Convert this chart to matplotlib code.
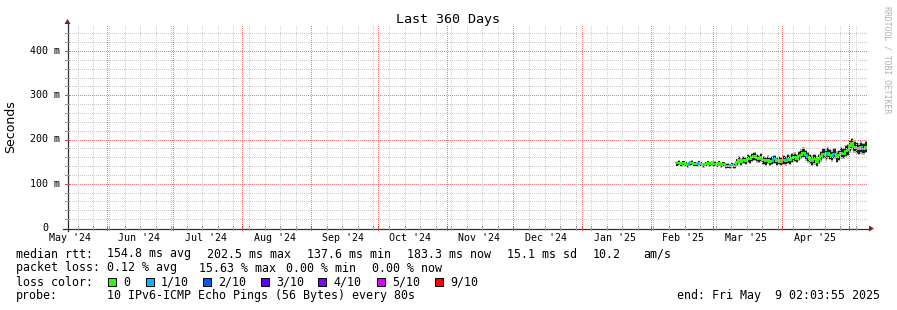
import matplotlib
matplotlib.use("Agg")
import matplotlib.pyplot as plt
import matplotlib.dates as mdates
import numpy as np
from matplotlib.patches import Rectangle, Polygon
from matplotlib.collections import LineCollection
from datetime import datetime, timedelta

plt.rcParams['font.family'] = ['DejaVu Sans Mono', 'DejaVu Sans']

# ---------------- data ----------------
title = "Last 360 Days"
start = datetime(2024, 5, 14, 2, 3, 55)
end = datetime(2025, 5, 9, 2, 3, 55)
first_day = datetime(2025, 2, 12)

# daily median rtt (ms), Feb 12 .. May 8 2025
median_ms = [
    146, 148, 144, 147, 145, 143, 146, 148, 145, 144, 147, 145, 142, 145, 147, 144, 146,
    145, 143, 146, 142, 144, 140, 141, 139, 142, 140, 149, 153, 150, 154, 152,
    157, 155, 160, 162, 158, 156, 160, 153, 151, 154, 150, 152, 155, 151, 153, 150,
    154, 152, 156, 153, 158, 160, 157, 163, 166, 170, 164, 160, 156, 152, 155,
    150, 156, 162, 168, 165, 170, 166, 163, 168, 160, 164, 170, 168, 174, 176,
    186, 192, 184, 181, 178, 182, 179, 183,
]
smoke_lo_ms = [
    139, 142, 138, 141, 139, 136, 140, 142, 139, 138, 141, 139, 136, 139, 141, 138, 140,
    139, 137, 140, 136, 138, 134, 135, 133, 136, 134, 141, 144, 141, 145, 143,
    147, 145, 150, 152, 148, 146, 150, 143, 141, 144, 140, 142, 145, 141, 143, 140,
    143, 141, 145, 142, 147, 149, 146, 152, 155, 158, 152, 148, 144, 140, 143,
    138, 144, 150, 155, 152, 157, 153, 150, 155, 147, 151, 157, 155, 160, 162,
    170, 176, 170, 167, 164, 168, 165, 169,
]
smoke_hi_ms = [
    151, 153, 149, 152, 150, 148, 151, 153, 150, 149, 152, 150, 147, 150, 152, 149, 151,
    151, 149, 152, 148, 150, 146, 147, 145, 148, 146, 157, 162, 159, 163, 161,
    167, 165, 170, 172, 168, 166, 170, 163, 161, 164, 160, 162, 165, 161, 163, 160,
    165, 163, 167, 164, 169, 171, 168, 174, 178, 182, 176, 172, 168, 164, 167,
    162, 168, 174, 181, 178, 183, 179, 176, 181, 173, 177, 183, 181, 188, 190,
    200, 203, 198, 195, 192, 196, 193, 197,
]
loss_tenths = [
    0, 0, 0, 0, 0, 0, 1, 0, 0, 0, 1, 0, 0, 0, 0, 0, 0,
    0, 0, 0, 0, 0, 0, 0, 0, 1, 0, 0, 0, 0, 0, 0,
    0, 0, 0, 0, 0, 0, 0, 0, 0, 0, 0, 0, 1, 0, 0, 0,
    0, 0, 1, 0, 0, 0, 0, 0, 0, 0, 0, 1, 0, 0, 0,
    0, 0, 0, 0, 0, 1, 0, 0, 1, 0, 0, 0, 0, 0, 0,
    0, 0, 0, 0, 0, 0, 1, 0,
]
month_labels = ["May '24", "Jun '24", "Jul '24", "Aug '24", "Sep '24", "Oct '24",
                "Nov '24", "Dec '24", "Jan '25", "Feb '25", "Mar '25", "Apr '25"]
ytick_values = [0, 100, 200, 300, 400]
ytick_labels = ["0", "100 m", "200 m", "300 m", "400 m"]

loss_names = ["0", "1/10", "2/10", "3/10", "4/10", "5/10", "9/10"]
loss_colors = ["#26ff00", "#00b8ff", "#0059ff", "#5e00ff", "#7e00ff", "#dd00ff", "#ff0000"]
loss_color_of = {0: "#26ff00", 1: "#00b8ff", 2: "#0059ff", 3: "#5e00ff",
                 4: "#7e00ff", 5: "#dd00ff", 9: "#ff0000"}

stats_rtt = [("median rtt:", 16), ("154.8 ms avg", 107), ("202.5 ms max", 207),
             ("137.6 ms min", 307), ("183.3 ms now", 407), ("15.1 ms sd", 507),
             ("10.2", 593), ("am/s", 643)]
stats_loss = [("packet loss:", 16), ("0.12 % avg", 107), ("15.63 % max", 199),
              ("0.00 % min", 286), ("0.00 % now", 372)]
probe_text = "10 IPv6-ICMP Echo Pings (56 Bytes) every 80s"
end_text = "end: Fri May  9 02:03:55 2025"

# ---------------- layout ----------------
W, H = 897, 310
fig = plt.figure(figsize=(W / 100, H / 100), dpi=100)
fig.patch.set_facecolor("white")

ov = fig.add_axes([0, 0, 1, 1])
ov.set_xlim(0, W)
ov.set_ylim(H, 0)
ov.axis("off")
ov.patch.set_alpha(0)

L, R, T, B = 67, 867, 25, 228
ax = fig.add_axes([L / W, 1 - B / H, (R - L) / W, (B - T) / H])
ax.patch.set_alpha(0)
ymax = (B - T) / ((B - 51) / 400.0)
ax.set_ylim(0, ymax)
x0, x1 = mdates.date2num(start), mdates.date2num(end)
ax.set_xlim(x0, x1)
for s in ax.spines.values():
    s.set_visible(False)
ax.set_xticks([])
ax.set_yticks([])


def xpix(dt):
    return L + (mdates.date2num(dt) - x0) / (x1 - x0) * (R - L)


def ypix(v):
    return B - v * (B - T) / ymax


# ---------------- pixel grid (dotted, like rrdtool) ----------------
GRAY = np.array([0.80, 0.80, 0.80, 1.0])
RED = np.array([0.97, 0.47, 0.47, 1.0])
TICK_GRAY = np.array([0.62, 0.62, 0.62, 1.0])
TICK_RED = np.array([0.88, 0.30, 0.30, 1.0])
img = np.zeros((H, W, 4))

vgrid = []
d = datetime(2024, 5, 19)
while d < end:
    vgrid.append((int(round(xpix(d))), GRAY, TICK_GRAY))
    d += timedelta(days=7)
y_, m_ = 2024, 6
while datetime(y_, m_, 1) < end:
    vgrid.append((int(round(xpix(datetime(y_, m_, 1)))), RED, TICK_RED))
    m_ += 1
    if m_ > 12:
        m_ = 1
        y_ += 1
hgrid = []
for v in range(20, int(ymax) + 1, 20):
    hgrid.append((int(round(ypix(v))), RED if v % 100 == 0 else GRAY,
                  TICK_RED if v % 100 == 0 else TICK_GRAY))

for yp, col, tcol in hgrid:
    for xc in range(L + 1, R + 1):
        if xc % 2 == 0:
            img[yp, xc] = col
for xp, col, tcol in vgrid:
    for yr in range(T, B):
        if yr % 2 == 0:
            img[yr, xp] = col
for yp, col, tcol in hgrid:
    img[yp, L - 2:L + 3] = tcol
for xp, col, tcol in vgrid:
    img[B - 2:B + 3, xp] = tcol
fig.figimage(img, xo=0, yo=0, origin="upper", zorder=0)

# ---------------- data drawing ----------------
dates = [first_day + timedelta(days=i) for i in range(len(median_ms))]
edges = mdates.date2num(dates + [dates[-1] + timedelta(days=1)])
lo_ext = smoke_lo_ms + [smoke_lo_ms[-1]]
hi_ext = smoke_hi_ms + [smoke_hi_ms[-1]]
med_ext = median_ms + [median_ms[-1]]
inner_lo = [m - 0.75 * (m - l) for m, l in zip(med_ext, lo_ext)]
inner_hi = [m + 0.75 * (h - m) for m, h in zip(med_ext, hi_ext)]
ax.fill_between(edges, lo_ext, hi_ext, step="post", color="#b0b0b0", lw=0, zorder=2)
ax.fill_between(edges, inner_lo, inner_hi, step="post", color="#222222", lw=0, zorder=3)

segs, cols = [], []
for i, m in enumerate(median_ms):
    segs.append([(edges[i], m), (edges[i + 1], m)])
    cols.append(loss_color_of[loss_tenths[i]])
    if i + 1 < len(median_ms):
        segs.append([(edges[i + 1], m), (edges[i + 1], median_ms[i + 1])])
        cols.append(loss_color_of[loss_tenths[i + 1]])
ax.add_collection(LineCollection(segs, colors=cols, linewidths=1.4, zorder=4,
                                 capstyle="projecting"))

# ---------------- axes lines + arrows ----------------
ov.plot([L - 4, R + 3], [B + 0.5, B + 0.5], color="#303030", lw=0.9, zorder=5)
ov.plot([L + 0.5, L + 0.5], [B + 3, T - 1], color="#303030", lw=0.9, zorder=5)
ov.add_patch(Polygon([[R + 2, B - 2.5], [R + 7, B + 0.5], [R + 2, B + 3.5]], closed=True,
                     color="#8b1a1a", lw=0, zorder=5))
ov.add_patch(Polygon([[L - 2.5, T - 1], [L + 0.5, T - 6], [L + 3.5, T - 1]], closed=True,
                     color="#8b1a1a", lw=0, zorder=5))

# ---------------- labels ----------------
tickfs = 7.2
for i, lab in enumerate(month_labels):
    mm = 5 + i
    yy = 2024 + (mm - 1) // 12
    mm = (mm - 1) % 12 + 1
    xp = xpix(datetime(yy, mm, 15, 12))
    ov.text(xp, 238, lab, ha="center", va="center", fontsize=tickfs, color="#000000")
for v, lab in zip(ytick_values, ytick_labels):
    xr = 60 if lab != "0" else 48
    ov.text(xr, ypix(v), lab, ha="right", va="center", fontsize=tickfs, color="#000000")

ov.text(W / 2, 19, title, ha="center", va="center", fontsize=9.6, color="#000000")
ov.text(11, (T + B) / 2, "Seconds", rotation=90, ha="center", va="center",
        fontsize=9.0, family="DejaVu Sans", color="#000000")
ov.text(887, 60, "RRDTOOL / TOBI OETIKER", rotation=-90, ha="center", va="center",
        fontsize=5.9, color="#b0b0b0")

lfs = 8.4
for txt, xp in stats_rtt:
    ov.text(xp, 254, txt, ha="left", va="center", fontsize=lfs)
for txt, xp in stats_loss:
    ov.text(xp, 268, txt, ha="left", va="center", fontsize=lfs)
ov.text(16, 282, "loss color:", ha="left", va="center", fontsize=lfs)
box_x = [108, 146, 203, 261, 318, 377, 435]
for bx, name, col in zip(box_x, loss_names, loss_colors):
    ov.add_patch(Rectangle((bx, 278), 8, 8, facecolor=col, edgecolor="#000000", lw=0.7))
    ov.text(bx + 15, 282, name, ha="left", va="center", fontsize=lfs)
ov.text(16, 296, "probe:", ha="left", va="center", fontsize=lfs)
ov.text(107, 296, probe_text, ha="left", va="center", fontsize=lfs)
ov.text(880, 296, end_text, ha="right", va="center", fontsize=lfs)

fig.savefig("out.png", dpi=100, facecolor="white")
